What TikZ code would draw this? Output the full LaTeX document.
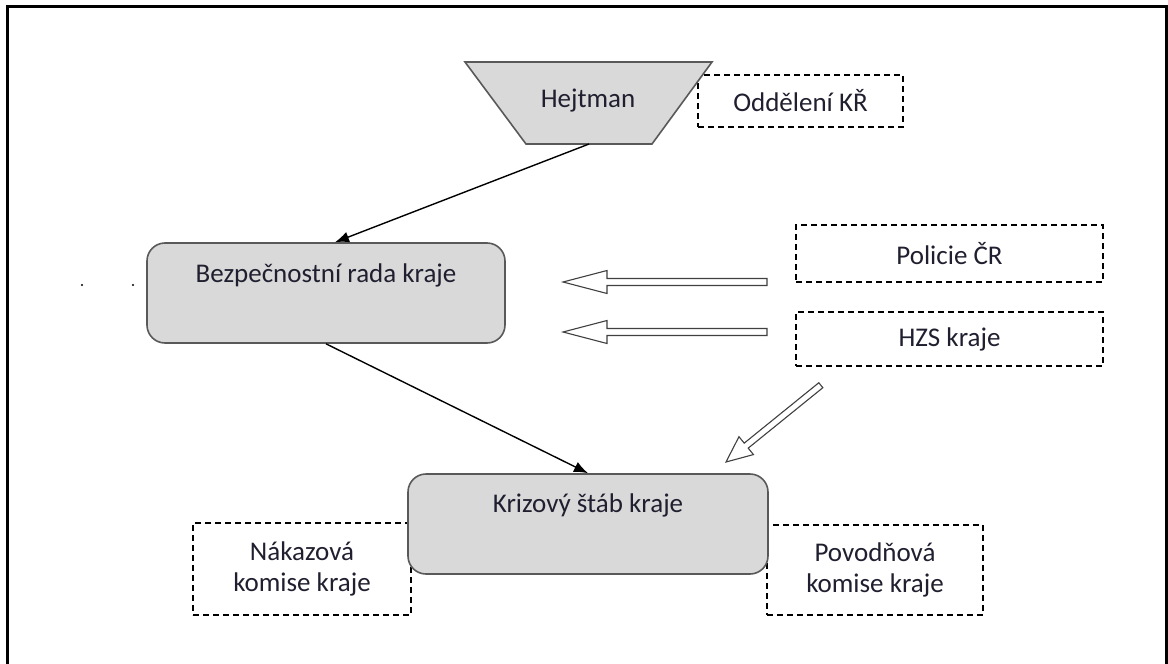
\documentclass[tikz,border=0pt]{standalone}
\usepackage{fontspec}
\setmainfont{Carlito}
\usetikzlibrary{arrows.meta,calc}
\definecolor{boxgray}{HTML}{D9D9D9}
\definecolor{edgegray}{HTML}{595959}
\definecolor{txt}{HTML}{1F1F2F}
\tikzset{
  every node/.style={font=\fontsize{27}{31}\selectfont, text=txt},
  rbox/.style={draw=edgegray, line width=1.6pt, fill=boxgray, rounded corners=18pt},
  dbox/.style={draw=black, line width=1.4pt, dash pattern=on 6pt off 4pt, inner sep=0pt},
  conn/.style={line width=1.4pt, -{Latex[length=14pt,width=11pt]}},
  hollow/.style={draw=black!75, line width=1.1pt, fill=white, line join=miter},
}
\begin{document}
\begin{tikzpicture}[x=1pt,y=-1pt]
\useasboundingbox (0,0) rectangle (1168,664);
% frame
\draw[line width=3pt] (7,664) -- (7,6) -- (1166,6) -- (1166,664);

% dashed boxes
\node[dbox, minimum width=205pt, minimum height=52pt] (odd) at (800.5,101) {Oddělení KŘ};
\node[dbox, minimum width=307pt, minimum height=57pt] (pol) at (949.5,253.5) {Policie ČR};
\node[dbox, minimum width=307pt, minimum height=54pt] (hzs) at (949.5,339) {HZS kraje};
\node[dbox, minimum width=218pt, minimum height=92pt, align=center] (nak) at (302,569) {Nákazová\\komise kraje};
\node[dbox, minimum width=216pt, minimum height=90pt, align=center] (pov) at (875,570) {Povodňová\\komise kraje};

% Hejtman trapezoid
\draw[draw=edgegray, fill=boxgray, line width=1.6pt] (465,62) -- (712,62) -- (652,144) -- (526,144) -- cycle;
\node (hej) at (588,101) {Hejtman};
\coordinate (hejb) at (589,144);

% rounded boxes
\node[rbox, minimum width=358pt, minimum height=100pt,
      label={[yshift=18pt]center:Bezpečnostní rada kraje}] (brk) at (326,293) {};
\node[rbox, minimum width=360pt, minimum height=100pt,
      label={[yshift=19pt]center:Krizový štáb kraje}] (krz) at (588,524) {};

% connectors
\draw[conn] (hejb) -- ($(brk.north)+(9,0)$);
\draw[conn] (brk.south) -- (krz.north);

% hollow arrows
\coordinate (h1tip) at (563,282);
\coordinate (h2tip) at (563,332);
\coordinate (h3tip) at (726,462);
\begin{scope}[shift={(h1tip)}]
  \draw[hollow] (0,0) -- (44,-11.5) -- (44,-3.5) -- (204,-3.5) -- (204,3.5) -- (44,3.5) -- (44,11.5) -- cycle;
\end{scope}
\begin{scope}[shift={(h2tip)}]
  \draw[hollow] (0,0) -- (44,-11.5) -- (44,-3.5) -- (204,-3.5) -- (204,3.5) -- (44,3.5) -- (44,11.5) -- cycle;
\end{scope}
\begin{scope}[shift={(h3tip)}, rotate=39]
  \draw[hollow] (0,0) -- (26,-11.5) -- (26,-3.2) -- (122,-3.2) -- (122,3.2) -- (26,3.2) -- (26,11.5) -- cycle;
\end{scope}

% stray dots
\fill (82,285) circle (1.1pt);
\fill (133,285) circle (1.1pt);
\end{tikzpicture}
\end{document}
